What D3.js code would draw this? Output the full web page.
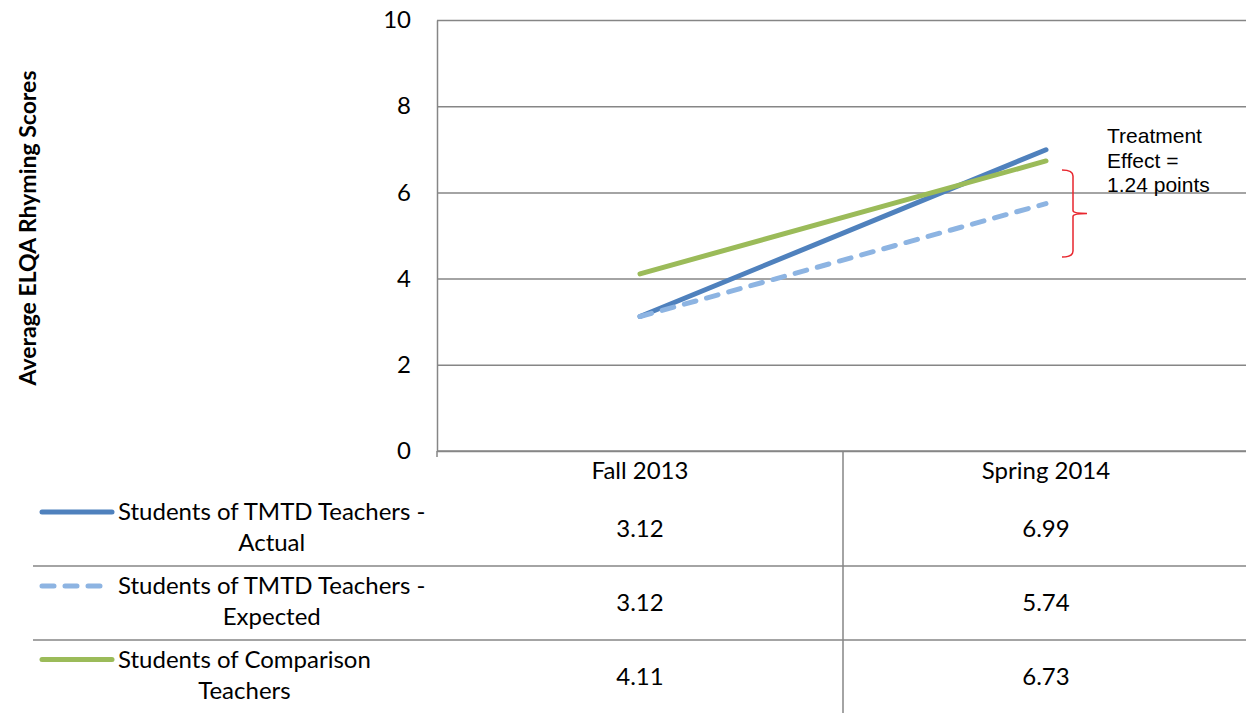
<!DOCTYPE html>
<html>
<head>
<meta charset="utf-8">
<script src="https://cdn.jsdelivr.net/npm/d3@7"></script>
<style>
  body { margin: 0; background: #fff; }
  svg { display: block; }
</style>
</head>
<body>
<svg id="graph" width="1246" height="713"></svg>
<script>
// Chart values
var categories = ["Fall 2013", "Spring 2014"];
var seriesNames = ["Students of TMTD Teachers - Actual",
                   "Students of TMTD Teachers - Expected",
                   "Students of Comparison Teachers"];
var legendLines = [["Students of TMTD Teachers -", "Actual"],
                   ["Students of TMTD Teachers -", "Expected"],
                   ["Students of Comparison", "Teachers"]];
var actual = [3.12, 6.99];
var expected = [3.12, 5.74];
var comparison = [4.11, 6.73];
var yTicks = [0, 2, 4, 6, 8, 10];
var noteLines = ["Treatment", "Effect =", "1.24 points"];
var bracketRange = [6.52, 4.5];   // y extent of red bracket

var series = [
    {name: seriesNames[0], values: actual, color: "#4F81BD", dash: null},
    {name: seriesNames[1], values: expected, color: "#8DB4E2", dash: "12,11"},
    {name: seriesNames[2], values: comparison, color: "#9BBB59", dash: null}
];

var svg = d3.select("#graph"),
    width = +svg.attr("width"),
    height = +svg.attr("height"),
    margin = {top: 20, right: -3, bottom: 262, left: 437};

var gridColor = "#868686";
var font = "Lato, 'Open Sans', sans-serif";
var fs = 24;

// Scales
var xScale = d3.scaleBand().domain(categories)
    .range([margin.left, width - margin.right]).padding(0);
var yScale = d3.scaleLinear().domain([0, 10])
    .range([height - margin.bottom, margin.top]);
var plotW = width - margin.right - margin.left;
var y0 = yScale(0);

// Gridlines + y labels
var yAxis = d3.axisLeft(yScale).tickValues(yTicks)
    .tickSizeInner(-plotW).tickSizeOuter(0).tickPadding(26);
var gy = svg.append("g").attr("transform", "translate(" + margin.left + ",0)").call(yAxis);
gy.select(".domain").attr("stroke", gridColor).attr("stroke-width", 1.5);
gy.selectAll(".tick line").attr("stroke", gridColor).attr("stroke-width", 1.5);
gy.selectAll(".tick text").attr("font-family", font).attr("font-size", fs).attr("fill", "#000");

// Y axis title
svg.append("text")
    .attr("transform", "translate(36,228) rotate(-90)")
    .attr("text-anchor", "middle")
    .attr("font-family", font).attr("font-weight", "bold").attr("font-size", 23)
    .text("Average ELQA Rhyming Scores");

// Data table grid
var rowTops = [492, 566, 640, height];
var tableLeft = 33;
svg.append("line").attr("x1", margin.left).attr("x2", width)
    .attr("y1", y0).attr("y2", y0)
    .attr("stroke", gridColor).attr("stroke-width", 1.5);
svg.append("line").attr("x1", margin.left).attr("x2", margin.left)
    .attr("y1", y0).attr("y2", y0 + 6)
    .attr("stroke", gridColor).attr("stroke-width", 1.5);
[rowTops[1], rowTops[2]].forEach(function(yy) {
    svg.append("line").attr("x1", tableLeft).attr("x2", width)
        .attr("y1", yy).attr("y2", yy)
        .attr("stroke", gridColor).attr("stroke-width", 1.5);
});
svg.append("line")
    .attr("x1", xScale(categories[1])).attr("x2", xScale(categories[1]))
    .attr("y1", y0).attr("y2", height)
    .attr("stroke", gridColor).attr("stroke-width", 1.5);

// Category headers
svg.selectAll(".cat").data(categories).enter().append("text")
    .attr("x", d => xScale(d) + xScale.bandwidth() / 2)
    .attr("y", 479)
    .attr("text-anchor", "middle")
    .attr("font-family", font).attr("font-size", fs)
    .text(d => d);

// Lines
var line = d3.line()
    .x((v, i) => xScale(categories[i]) + xScale.bandwidth() / 2)
    .y(v => yScale(v));
series.forEach(function(s) {
    svg.append("path").datum(s.values)
        .attr("fill", "none")
        .attr("stroke", s.color)
        .attr("stroke-width", 5)
        .attr("stroke-linecap", "round")
        .attr("stroke-dasharray", s.dash)
        .attr("d", line);
});

// Table rows: legend key, label, values
series.forEach(function(s, i) {
    var top = rowTops[i], bot = rowTops[i + 1];
    var mid = (top + bot) / 2;
    var keyY = mid - 17;
    svg.append("line")
        .attr("x1", 42).attr("x2", s.dash ? 103 : 112)
        .attr("y1", keyY).attr("y2", keyY)
        .attr("stroke", s.color).attr("stroke-width", 5)
        .attr("stroke-linecap", "round")
        .attr("stroke-dasharray", s.dash);

    var lab = svg.append("text")
        .attr("font-family", font).attr("font-size", fs)
        .attr("text-anchor", "middle");
    var spans = legendLines[i].map(function(t, k) {
        return lab.append("tspan").attr("y", keyY + 8 + k * 31).text(t);
    });
    var maxW = d3.max(spans, sp => sp.node().getComputedTextLength());
    spans.forEach(sp => sp.attr("x", 118 + maxW / 2));

    s.values.forEach(function(v, j) {
        svg.append("text")
            .attr("x", xScale(categories[j]) + xScale.bandwidth() / 2)
            .attr("y", mid + 8)
            .attr("text-anchor", "middle")
            .attr("font-family", font).attr("font-size", fs)
            .text(v.toFixed(2));
    });
});

// Treatment effect annotation
var bTop = yScale(bracketRange[0]), bBot = yScale(bracketRange[1]),
    bMid = (bTop + bBot) / 2;
svg.append("path")
    .attr("fill", "none").attr("stroke", "#E8262E").attr("stroke-width", 1.5)
    .attr("d", "M1062," + bTop + " Q1073," + bTop + " 1073," + (bTop + 6) +
               " L1073," + (bMid - 3) + " Q1073," + bMid + " 1087," + bMid +
               " Q1073," + bMid + " 1073," + (bMid + 3) +
               " L1073," + (bBot - 6) + " Q1073," + bBot + " 1062," + bBot);
svg.append("text")
    .attr("font-family", "'Liberation Sans', Arial, sans-serif").attr("font-size", 21)
    .selectAll("tspan").data(noteLines).enter().append("tspan")
    .attr("x", 1107).attr("y", (d, i) => 143 + i * 24.5)
    .text(d => d);
</script>
</body>
</html>
